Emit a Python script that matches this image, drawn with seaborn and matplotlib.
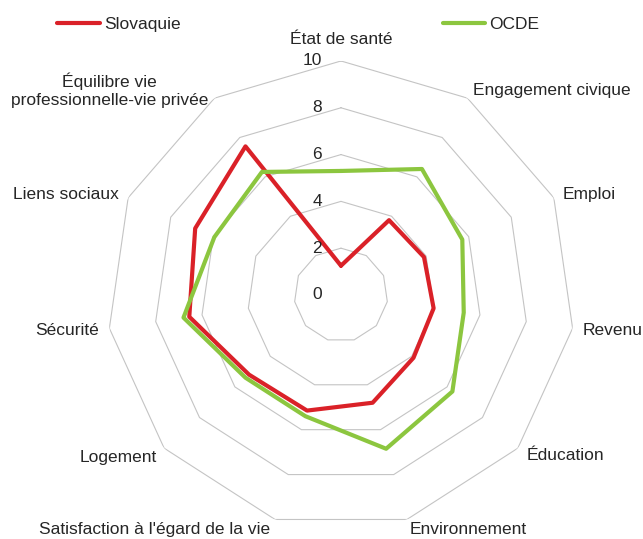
import matplotlib

matplotlib.use("Agg")

import matplotlib.pyplot as plt
import numpy as np
import pandas as pd
import seaborn as sns

# Indicateurs du bien-être (échelle 0-10), dans l'ordre horaire depuis le haut
categories = [
    "État de santé", "Engagement civique", "Emploi", "Revenu", "Éducation",
    "Environnement", "Satisfaction à l'égard de la vie", "Logement",
    "Sécurité", "Liens sociaux", "Équilibre vie\nprofessionnelle-vie privée",
]
slovaquie = [1.25, 3.8, 3.9, 4.0, 4.1, 4.8, 5.15, 5.2, 6.55, 6.85, 7.55]
ocde = [5.3, 6.4, 5.7, 5.3, 6.3, 6.85, 5.4, 5.4, 6.8, 5.95, 6.25]
rings = [2, 4, 6, 8, 10]
tick_labels = ["0", "2", "4", "6", "8", "10"]

RED = "#DA2128"
GREEN = "#8CC63F"
GRID = "#C4C4C4"

# label offsets from the outer vertex, in pixels, and alignment
label_style = [
    ((0, 21), "center"), ((6, 8), "left"), ((9, 3), "left"), ((10, -2), "left"),
    ((9, -7), "left"), ((3, -10), "left"), ((-5, -10), "right"),
    ((-7, -9), "right"), ((-10, -2), "right"), ((-9, 3), "right"),
    ((-6, 8), "right"),
]

sns.set_style("white")
plt.rcParams["font.family"] = ["Liberation Sans", "DejaVu Sans"]

n = len(categories)
theta = np.linspace(0, 2 * np.pi, n, endpoint=False)
theta_closed = np.append(theta, 2 * np.pi)

df = pd.concat([
    pd.DataFrame({"theta": theta_closed, "value": slovaquie + slovaquie[:1], "pays": "Slovaquie"}),
    pd.DataFrame({"theta": theta_closed, "value": ocde + ocde[:1], "pays": "OCDE"}),
])

fig = plt.figure(figsize=(6.43, 5.39), dpi=100)
ax = fig.add_axes([0.1664, 0.0186, 0.7278, 0.8683], projection="polar")
ax.set_theta_zero_location("N")
ax.set_theta_direction(-1)

# polygon grid
for r in rings:
    ax.plot(theta_closed, [r] * (n + 1), color=GRID, lw=0.8, zorder=1)

sns.lineplot(data=df, x="theta", y="value", hue="pays", sort=False,
             estimator=None, palette={"Slovaquie": RED, "OCDE": GREEN},
             lw=3, ax=ax, legend=False, zorder=3)

ax.set_ylim(0, 10)
ax.grid(False)
ax.spines["polar"].set_visible(False)
ax.set_xticks([])
ax.set_yticks([])
ax.set_xlabel("")
ax.set_ylabel("")

for v, lab in zip([0] + rings, tick_labels):
    ax.annotate(lab, (0, v), xytext=(-19, 0), textcoords="offset pixels",
                ha="right", va="center", fontsize=12.5)

for t, cat, (off, ha) in zip(theta, categories, label_style):
    ax.annotate(cat, (t, 10), xytext=off, textcoords="offset pixels",
                ha=ha, va="center", multialignment="center", fontsize=12.5,
                annotation_clip=False)

handles = [plt.Line2D([], [], color=RED, lw=3), plt.Line2D([], [], color=GREEN, lw=3)]
fig.legend(handles, ["Slovaquie", "OCDE"], loc="center left",
           bbox_to_anchor=(57 / 643, 1 - 24 / 539), ncol=2, frameon=False,
           borderpad=0, borderaxespad=0, handlelength=2.45, handletextpad=0.25,
           columnspacing=15.1, fontsize=12.5)

fig.savefig("out.png", dpi=100)
